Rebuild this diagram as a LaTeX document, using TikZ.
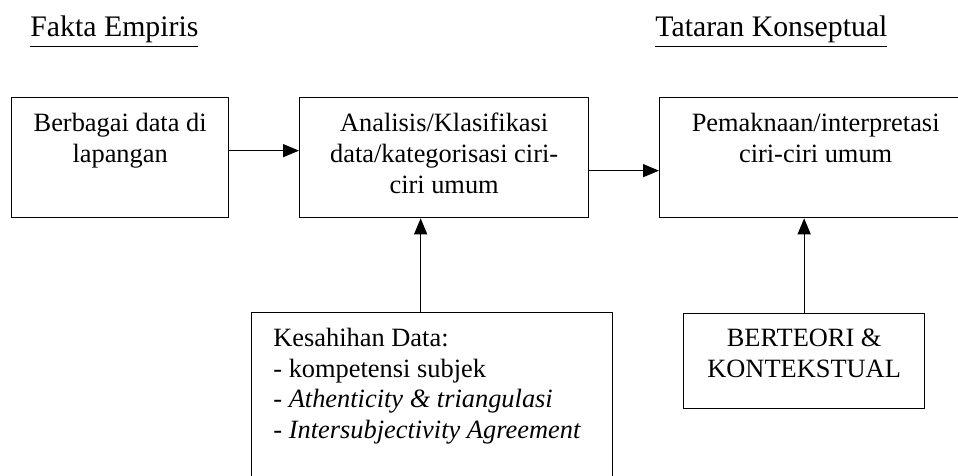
\documentclass[tikz,border=0pt]{standalone}
\usepackage{fontspec}
\setmainfont{Liberation Serif}
\usetikzlibrary{arrows.meta,positioning}
\tikzset{
  box/.style={draw, line width=.65pt, inner sep=0pt, anchor=north west},
  txt/.style={align=center, inner sep=0pt, anchor=north},
  judul/.style={anchor=base west, inner sep=0pt, font=\fontsize{14.9}{17}\selectfont}
}
\begin{document}
\begin{tikzpicture}[x=.5pt, y=-.5pt, line join=round, >={Triangle[length=8pt,width=6.5pt]},
  font=\fontsize{13.2}{15.3}\selectfont]
	\useasboundingbox (0,0) rectangle (958,476);
	\clip (0,0) rectangle (958,476);
	% judul kolom
	\node[judul] (empiris) at (30,37) {\underline{Fakta Empiris}};
	\node[judul] (konsep) at (655,37) {\underline{Tataran Konseptual}};
	% kotak-kotak
	\node[box, minimum width=108.5pt, minimum height=60pt] (data) at (11,97) {};
	\node[box, minimum width=144.5pt, minimum height=60pt] (ana) at (299,97) {};
	\node[box, minimum width=156pt, minimum height=60pt] (makna) at (659,97) {};
	\node[box, minimum width=180.5pt, minimum height=95pt] (sahih) at (251,312) {};
	\node[box, minimum width=120.5pt, minimum height=47.5pt] (teori) at (683,313) {};
	% isi kotak
	\node[txt, below=8pt of data.north] (dataT) {Berbagai data di\\lapangan};
	\node[txt, below=8pt of ana.north] (anaT) {Analisis/Klasifikasi\\data/kategorisasi ciri-\\ciri umum};
	\node[txt, below=8pt of makna.north] (maknaT) {Pemaknaan/interpretasi\\ciri-ciri umum};
	\node[txt, below=8pt of teori.north] (teoriT) {BERTEORI \&\\KONTEKSTUAL};
	\node[txt, align=left, anchor=north west] (sahihT) at ([xshift=11pt,yshift=-8pt]sahih.north west)
		{Kesahihan Data:\\- kompetensi subjek\\- \textit{Athenticity \& triangulasi}\\- \textit{Intersubjectivity Agreement}};
	% panah
	\draw[->, line width=.65pt] ([yshift=3.5pt]data.east) -- ([yshift=3.5pt]data.east -| ana.west);
	\draw[->, line width=.65pt] ([yshift=-6.5pt]ana.east) -- ([yshift=-6.5pt]ana.east -| makna.west);
	\draw[->, line width=.65pt] ([xshift=-5.75pt]sahih.north) -- ([xshift=-5.75pt]sahih.north |- ana.south);
	\draw[->, line width=.65pt] (teori.north) -- (teori.north |- makna.south);
\end{tikzpicture}
\end{document}
